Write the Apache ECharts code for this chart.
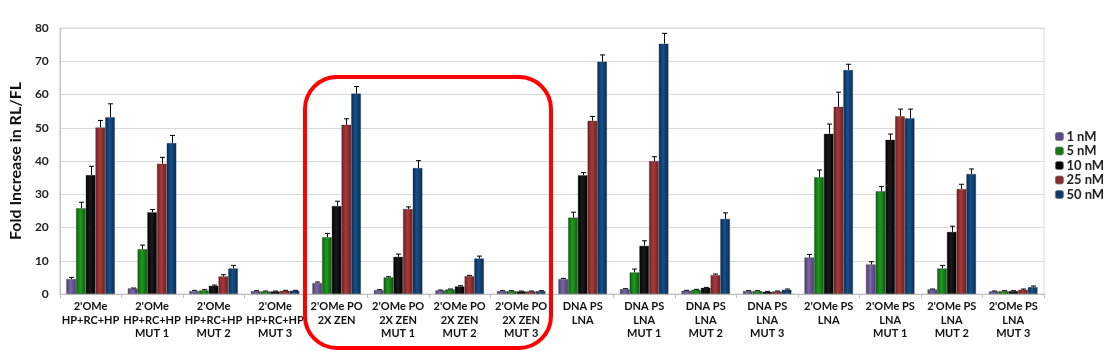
<!DOCTYPE html>
<html><head><meta charset="utf-8">
<script src="https://cdn.jsdelivr.net/npm/echarts@6/dist/echarts.min.js"></script>
<style>html,body{margin:0;padding:0;background:#fff}#c{width:1105px;height:351px}</style>
</head><body><div id="c"></div>
<script>
const categories = [
 "2'OMe\nHP+RC+HP", "2'OMe\nHP+RC+HP\nMUT 1", "2'OMe\nHP+RC+HP\nMUT 2", "2'OMe\nHP+RC+HP\nMUT 3",
 "2'OMe PO\n2X ZEN", "2'OMe PO\n2X ZEN\nMUT 1", "2'OMe PO\n2X ZEN\nMUT 2", "2'OMe PO\n2X ZEN\nMUT 3",
 "DNA PS\nLNA", "DNA PS\nLNA\nMUT 1", "DNA PS\nLNA\nMUT 2", "DNA PS\nLNA\nMUT 3",
 "2'OMe PS\nLNA", "2'OMe PS\nLNA\nMUT 1", "2'OMe PS\nLNA\nMUT 2", "2'OMe PS\nLNA\nMUT 3"
];
const seriesNames = ["1 nM", "5 nM", "10 nM", "25 nM", "50 nM"];
const v1nM  = [4.5, 1.7, 0.9, 0.9, 3.3, 1.2, 1.1, 0.9, 4.5, 1.5, 1.0, 0.9, 11.0, 8.9, 1.4, 0.8];
const v5nM  = [25.8, 13.5, 1.1, 0.8, 17.1, 5.0, 1.4, 0.9, 23.0, 6.5, 1.3, 0.9, 35.1, 30.9, 7.7, 0.9];
const v10nM = [35.8, 24.6, 2.5, 0.8, 26.5, 11.2, 2.3, 0.8, 35.7, 14.5, 1.9, 0.7, 48.2, 46.4, 18.7, 0.9];
const v25nM = [50.1, 39.2, 5.3, 1.0, 50.9, 25.6, 5.4, 0.8, 52.1, 40.0, 5.7, 0.8, 56.3, 53.5, 31.6, 1.3];
const v50nM = [53.2, 45.4, 7.7, 1.0, 60.3, 37.9, 10.7, 0.9, 69.9, 75.3, 22.6, 1.3, 67.4, 52.9, 36.1, 2.1];
const e1nM  = [0.5, 0.1, 0.2, 0.1, 0.3, 0.1, 0.1, 0.1, 0.2, 0.1, 0.1, 0.1, 0.9, 0.8, 0.1, 0.1];
const e5nM  = [1.8, 1.2, 0.2, 0.1, 1.1, 0.2, 0.1, 0.1, 1.6, 1.0, 0.1, 0.1, 2.2, 1.4, 0.9, 0.1];
const e10nM = [2.6, 0.8, 0.2, 0.1, 1.4, 0.8, 0.2, 0.1, 0.8, 1.5, 0.1, 0.1, 2.9, 1.7, 1.7, 0.1];
const e25nM = [2.1, 1.9, 0.5, 0.1, 1.8, 0.6, 0.2, 0.1, 1.3, 1.3, 0.3, 0.1, 4.4, 2.1, 1.4, 0.2];
const e50nM = [4.0, 2.3, 0.9, 0.1, 2.1, 2.2, 0.7, 0.1, 2.0, 3.1, 1.8, 0.2, 1.7, 2.7, 1.5, 0.3];
const yTicks = [0, 10, 20, 30, 40, 50, 60, 70, 80];

const values = [v1nM, v5nM, v10nM, v25nM, v50nM];
const errors = [e1nM, e5nM, e10nM, e25nM, e50nM];
const colors = [
  ['#4a3a70', '#7a68a6'],
  ['#0a5e0a', '#1f9a1f'],
  ['#000000', '#1a1a1a'],
  ['#6e1f1f', '#a83a3a'],
  ['#062c55', '#17508a']
];
const legendColors = ['#5e4a8a', '#107a10', '#000000', '#8b2b2b', '#0a3c6e'];
const BW = 0.158;

function grad(c) {
  return new echarts.graphic.LinearGradient(0, 0, 1, 0, [
    {offset: 0, color: c[0]}, {offset: 0.45, color: c[1]}, {offset: 1, color: c[0]}
  ]);
}

const series = [];
seriesNames.forEach((name, i) => {
  series.push({
    name: name, type: 'bar', barWidth: (BW * 100) + '%', barGap: '0%',
    data: values[i],
    itemStyle: {color: grad(colors[i]), borderColor: 'rgba(40,40,40,0.55)', borderWidth: 0.6},
    emphasis: {disabled: true}
  });
});
seriesNames.forEach((name, i) => {
  series.push({
    type: 'custom', name: name + ' err',
    data: values[i].map((v, k) => [k, v, errors[i][k]]),
    z: 5,
    renderItem: function (params, api) {
      const k = api.value(0), v = api.value(1), e = api.value(2);
      const band = api.size([1, 0])[0];
      const bw = band * BW;
      const p0 = api.coord([k, v]);
      const p1 = api.coord([k, v + e]);
      const x = Math.round(p0[0] + (i - 2) * bw) + 0.5;
      const cap = 2.5;
      return {
        type: 'group',
        children: [
          {type: 'line', shape: {x1: x, y1: p0[1], x2: x, y2: p1[1]}, style: {stroke: '#000', lineWidth: 1}},
          {type: 'line', shape: {x1: x - cap, y1: p1[1], x2: x + cap, y2: p1[1]}, style: {stroke: '#000', lineWidth: 1}}
        ]
      };
    }
  });
});

const chart = echarts.init(document.getElementById('c'));
chart.setOption({
  animation: false,
  backgroundColor: '#fff',
  color: legendColors,
  textStyle: {fontFamily: 'Lato'},
  grid: {left: 57, right: 61, top: 28, bottom: 57, show: true, borderColor: '#d9d9d9', borderWidth: 1},
  legend: {
    orient: 'vertical', left: 1050, top: 125, itemWidth: 8, itemHeight: 8, itemGap: 1.5,
    data: seriesNames.map((n, i) => ({name: n, itemStyle: {color: legendColors[i], borderColor: '#777', borderWidth: 0.8}})),
    textStyle: {fontFamily: 'Lato', fontWeight: 'bold', fontSize: 13, color: '#222', padding: [0, 0, 0, -2]},
    selectedMode: false
  },
  xAxis: {
    type: 'category', data: categories,
    axisLine: {lineStyle: {color: '#bfbfbf'}},
    axisTick: {show: true, length: 4, lineStyle: {color: '#bfbfbf'}},
    axisLabel: {interval: 0, fontFamily: 'Lato', fontWeight: 'bold', fontSize: 11, color: '#111', lineHeight: 13.5, margin: 6}
  },
  yAxis: {
    type: 'value', min: 0, max: 80, interval: 10,
    name: 'Fold Increase in RL/FL', nameLocation: 'middle', nameGap: 34,
    nameTextStyle: {fontFamily: 'Lato', fontWeight: 'bold', fontSize: 16, color: '#111'},
    axisLine: {show: true, lineStyle: {color: '#bfbfbf'}},
    axisTick: {show: false},
    splitLine: {lineStyle: {color: '#d9d9d9'}},
    axisLabel: {fontFamily: 'Lato', fontWeight: 'bold', fontSize: 12, color: '#222', margin: 11,
      formatter: v => yTicks.indexOf(v) >= 0 ? String(v) : ''}
  },
  graphic: [{
    type: 'rect', z: 100, silent: true,
    shape: {x: 305, y: 77, width: 246, height: 271, r: 32},
    style: {fill: 'none', stroke: '#ff0000', lineWidth: 4}
  }],
  series: series
});
</script></body></html>
